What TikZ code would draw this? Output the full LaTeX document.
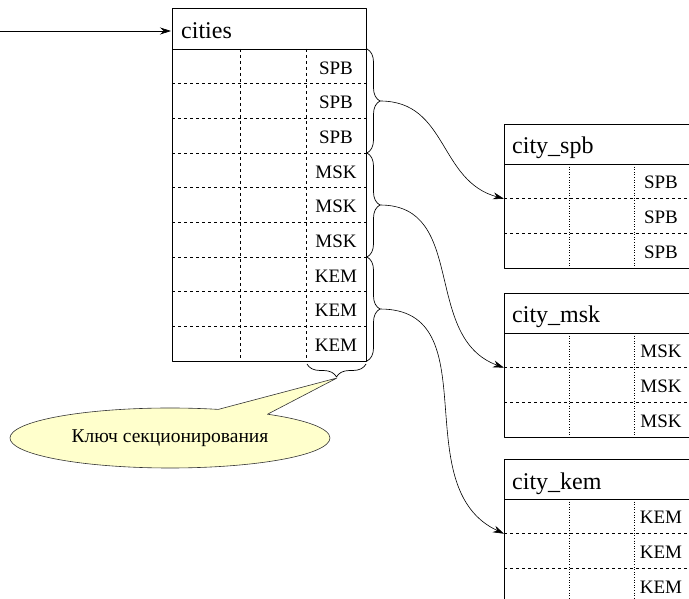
\documentclass[tikz,border=0pt]{standalone}
\usepackage{fontspec}
\setmainfont{Liberation Serif}
\usetikzlibrary{arrows.meta,decorations.pathreplacing,shapes.callouts}
\definecolor{notefill}{RGB}{255,255,204}

\tikzset{
	frame/.style={line width=0.8pt},
	rowline/.style={line width=0.6pt,dashed},
	colline/.style={line width=0.6pt,dashed},
	subcol/.style={line width=0.6pt,dotted},
	keybrace/.style={decorate,decoration={brace,amplitude=13pt},line width=0.7pt},
	link/.style={line width=0.6pt,-{Stealth[length=11pt,width=7pt]}},
	tabname/.style={anchor=base west,font=\fontsize{24}{24}\selectfont,inner sep=0pt},
	cell/.style={anchor=base,font=\fontsize{19}{19}\selectfont,inner sep=0pt},
}

\begin{document}
\begin{tikzpicture}[line cap=butt,line join=round,x=1pt,y=-1pt]
	\clip (0,0) rectangle (689,599);
	% main table
	\draw [frame] (172,8) rectangle (366,49);
	\node [tabname] (cities) at (181,39) {cities};
	\draw [frame] (172,49) rectangle (366,361);
	\foreach \i in {1,...,8}
		\draw [rowline] (172,{49+34.67*\i}) -- (366,{49+34.67*\i});
	\draw [colline] (240.5,49) -- (240.5,361);
	\draw [colline] (306.5,49) -- (306.5,361);
	\foreach \t [count=\i] in {SPB,SPB,SPB,MSK,MSK,MSK,KEM,KEM,KEM}
		\node [cell] (key\i) at (336,{49+34.67*\i-9.5}) {\t};
	\coordinate (entry) at (0,31);
	\coordinate (cityin) at (171,31);
	\draw [link] (entry) -- (cityin);
	% braces
	\draw [keybrace] (367,49) -- (367,153);
	\draw [keybrace] (367,153) -- (367,257);
	\draw [keybrace] (367,257) -- (367,361);
	\draw [keybrace] (366,364) -- (307,364);
	\coordinate (tipSPB) at (380,101);
	\coordinate (tipMSK) at (380,205);
	\coordinate (tipKEM) at (380,309);
	\coordinate (keytip) at (337,378);
	% sections
	\foreach \nm/\top/\t in {city\_spb/124/SPB,city\_msk/293/MSK,city\_kem/459/KEM} {
		\draw [frame] (504,\top) rectangle (700,{\top+40});
		\node [tabname] (name\t) at (512,{\top+30}) {\nm};
		\draw [frame] (504,{\top+40}) rectangle (700,{\top+144});
		\draw [rowline] (504,{\top+74.7}) -- (700,{\top+74.7});
		\draw [rowline] (504,{\top+109.3}) -- (700,{\top+109.3});
		\draw [subcol] (569,{\top+40}) -- (569,{\top+144});
		\draw [subcol] (634,{\top+40}) -- (634,{\top+144});
		\foreach \j in {1,2,3}
			\node [cell] at (661,{\top+40+34.67*\j-10}) {\t};
		\coordinate (in\t) at (504,{\top+74.7});
	}
	\draw [link] (tipSPB) to[out=0,in=165,looseness=1.1] (inSPB);
	\draw [link] (tipMSK) to[out=0,in=160,looseness=1.1] (inMSK);
	\draw [link] (tipKEM) to[out=0,in=155,looseness=1.1] (inKEM);
	% note
	\node [ellipse callout,draw=black!80,fill=notefill,line width=0.6pt,
		minimum width=320pt,minimum height=60pt,inner sep=0pt,
		callout absolute pointer={(keytip)},callout pointer arc=20,
		font=\fontsize{19.5}{19.5}\selectfont] (note) at (170,438) {Ключ секционирования};
\end{tikzpicture}
\end{document}
